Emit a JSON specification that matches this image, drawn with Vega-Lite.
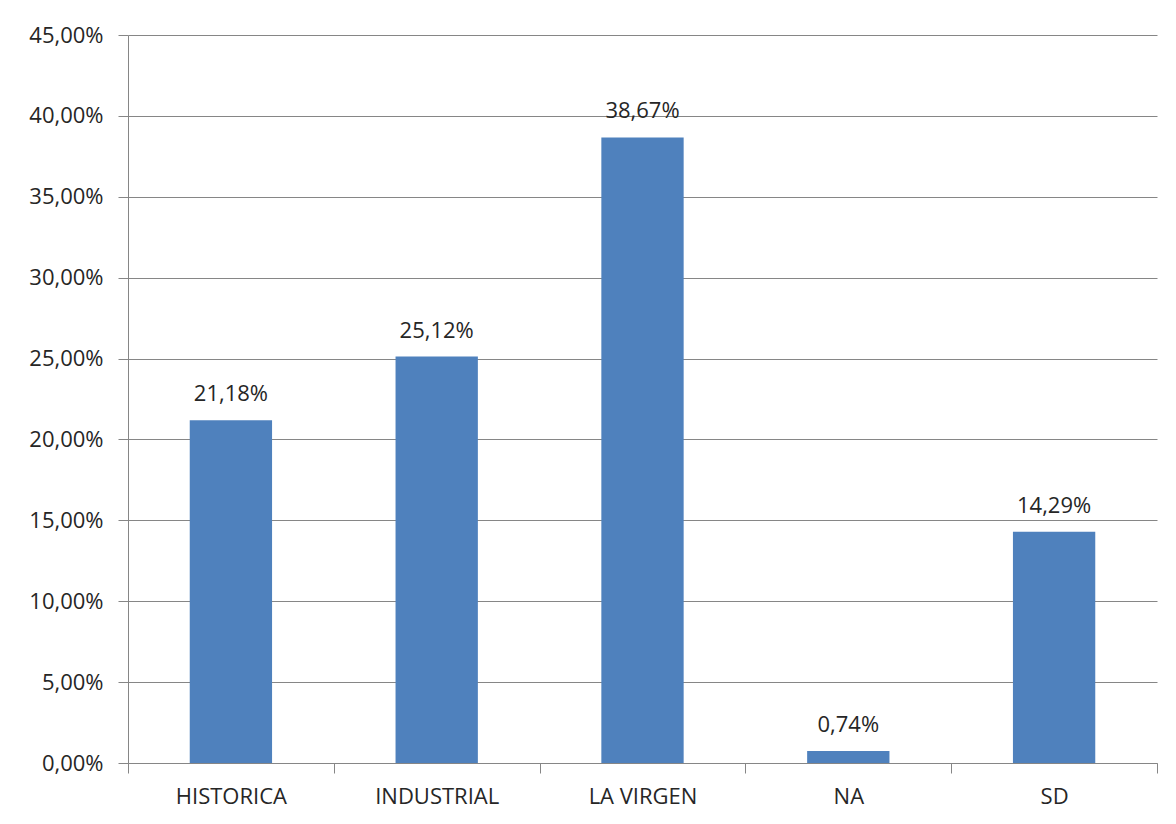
{
  "$schema": "https://vega.github.io/schema/vega-lite/v6.json",
  "width": 1029,
  "height": 728,
  "autosize": {"type": "none"},
  "padding": {"left": 128, "top": 35, "right": 19, "bottom": 61},
  "background": "white",
  "config": {
    "locale": {"number": {"decimal": ",", "thousands": ".", "grouping": [3], "currency": ["", "€"]}},
    "view": {"stroke": null},
    "font": "Open Sans"
  },
  "data": {
    "values": [
      {"zona": "HISTORICA", "pct": 0.2118},
      {"zona": "INDUSTRIAL", "pct": 0.2512},
      {"zona": "LA VIRGEN", "pct": 0.3867},
      {"zona": "NA", "pct": 0.0074},
      {"zona": "SD", "pct": 0.1429}
    ]
  },
  "encoding": {
    "x": {
      "field": "zona", "type": "nominal", "sort": null,
      "scale": {"paddingInner": 0, "paddingOuter": 0},
      "axis": {
        "title": null, "labelAngle": 0, "tickBand": "extent",
        "domainColor": "#868686", "tickColor": "#868686", "tickSize": 10,
        "labelFontSize": 22, "labelColor": "#262626", "labelPadding": 13,
        "labelFont": "Open Sans"
      }
    },
    "y": {
      "field": "pct", "type": "quantitative",
      "scale": {"domain": [0, 0.45], "nice": false},
      "axis": {
        "title": null, "format": ".2%", "values": [0, 0.05, 0.1, 0.15, 0.2, 0.25, 0.3, 0.35, 0.4, 0.45],
        "grid": true, "gridColor": "#868686", "gridOpacity": 1,
        "domainColor": "#868686", "tickColor": "#868686", "tickSize": 10,
        "labelFontSize": 22, "labelColor": "#262626", "labelPadding": 15,
        "labelFont": "Open Sans"
      }
    }
  },
  "layer": [
    {"mark": {"type": "bar", "color": "#4F81BD", "width": {"band": 0.4}}},
    {
      "mark": {"type": "text", "baseline": "alphabetic", "dy": -19, "fontSize": 22, "color": "#262626", "font": "Open Sans"},
      "encoding": {"text": {"field": "pct", "type": "quantitative", "format": ".2%"}}
    }
  ]
}
